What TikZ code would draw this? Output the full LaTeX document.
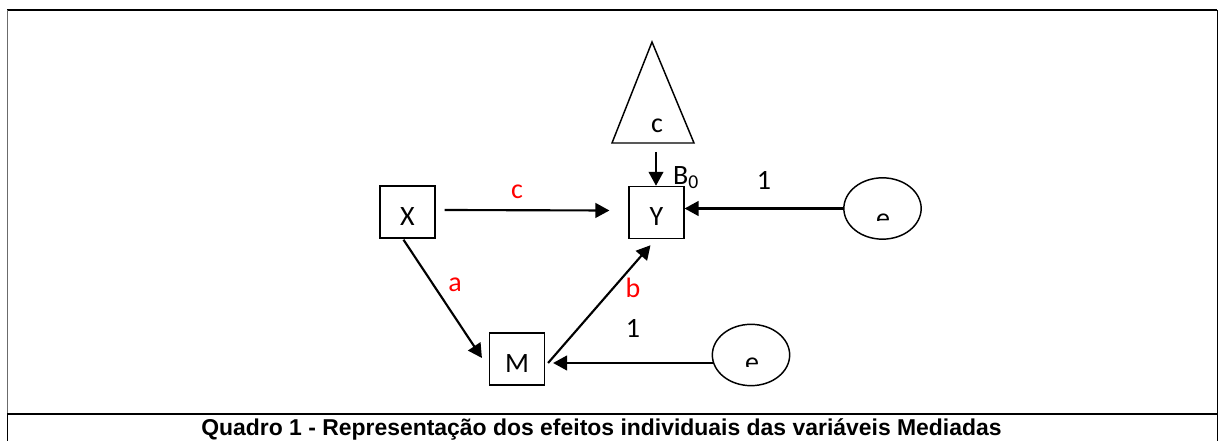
\documentclass[tikz,border=0pt]{standalone}
\usepackage{fontspec}
\setmainfont{Carlito}
\newfontfamily\capfont{Liberation Sans}
\usetikzlibrary{arrows.meta,shapes.geometric}
\definecolor{medred}{HTML}{FF0000}
\definecolor{medgray}{HTML}{6B6B6B}

\begin{document}
\begin{tikzpicture}[x=0.75pt,y=-0.75pt,font=\fontsize{21}{23}\selectfont,
  var/.style={draw,line width=1.1pt,minimum width=41pt,minimum height=39pt,inner sep=0pt,text height=20pt,text depth=0pt},
  err/.style={draw,ellipse,line width=1.1pt,minimum width=58pt,minimum height=46pt,inner sep=0pt},
  arr/.style={-{Triangle[length=10.5pt,width=11pt]},line width=1.6pt},
  coef/.style={text=medred}]
  \useasboundingbox (0,0) rectangle (1218,441);
  % frame and caption
  \draw[line width=1.5pt] (7,10) -- (1217,10);
  \draw[medgray,line width=1.1pt] (7.5,10) -- (7.5,414);
  \draw[line width=1.1pt] (7.5,414) -- (7.5,441);
  \draw[line width=0.75pt] (1217,10) -- (1217,441);
  \draw[line width=1.6pt] (7,414) -- (1217,414);
  \node[font=\capfont\bfseries\fontsize{17.2}{19}\selectfont,anchor=west,inner sep=0pt] (cap) at (201,429) {Quadro 1 - Representação dos efeitos individuais das variáveis Mediadas};
  % variables
  \node[var] (X) at (407.5,212) {X};
  \node[var] (Y) at (656.5,212.5) {Y};
  \node[var] (M) at (517,359) {M};
  \node[err] (e1) at (882.5,208.5) {};
  \node[err] (e2) at (751,355) {};
  % constant
  \draw[line width=1.1pt] (652,42) -- (694,143) -- (612,143) -- cycle;
  \node (cl) at (657,126) {c};
  \coordinate (tb) at (656,152);
  % paths
  \draw[arr] (tb) -- (tb |- Y.north);
  \draw[arr] ([shift={(9,-2)}]X.east) -- ([shift={(-19,-2)}]Y.west);
  \draw[arr] ([shift={(-4,1)}]X.south) -- ([shift={(-7,-1)}]M.west);
  \draw[arr] ([shift={(3,4)}]M.east) -- ([shift={(-6,6)}]Y.south);
  \draw[arr] ([shift={(1.3,8)}]e2.west) -- ([shift={(8,4)}]M.east);
  \draw[arr] (e1.west) -- (e1.west -| Y.east);
  % labels
  \foreach \n/\x/\y/\t in {lc/517/192/c,la/455/285/a,lb/633/288/b}
    \node[coef] (\n) at (\x,\y) {\t};
  \node (l1) at (633,328) {1};
  \node (l2) at (764,180) {1};
  \node (lB) at (686,178) {B\textsubscript{0}};
  \begin{scope}
    \clip (840,200) rectangle (925,221);
    \node[anchor=base] (t1) at (883,228) {e};
  \end{scope}
  \begin{scope}
    \clip (710,340) rectangle (795,367);
    \node[anchor=base] (t2) at (752,372) {e};
  \end{scope}
\end{tikzpicture}
\end{document}
